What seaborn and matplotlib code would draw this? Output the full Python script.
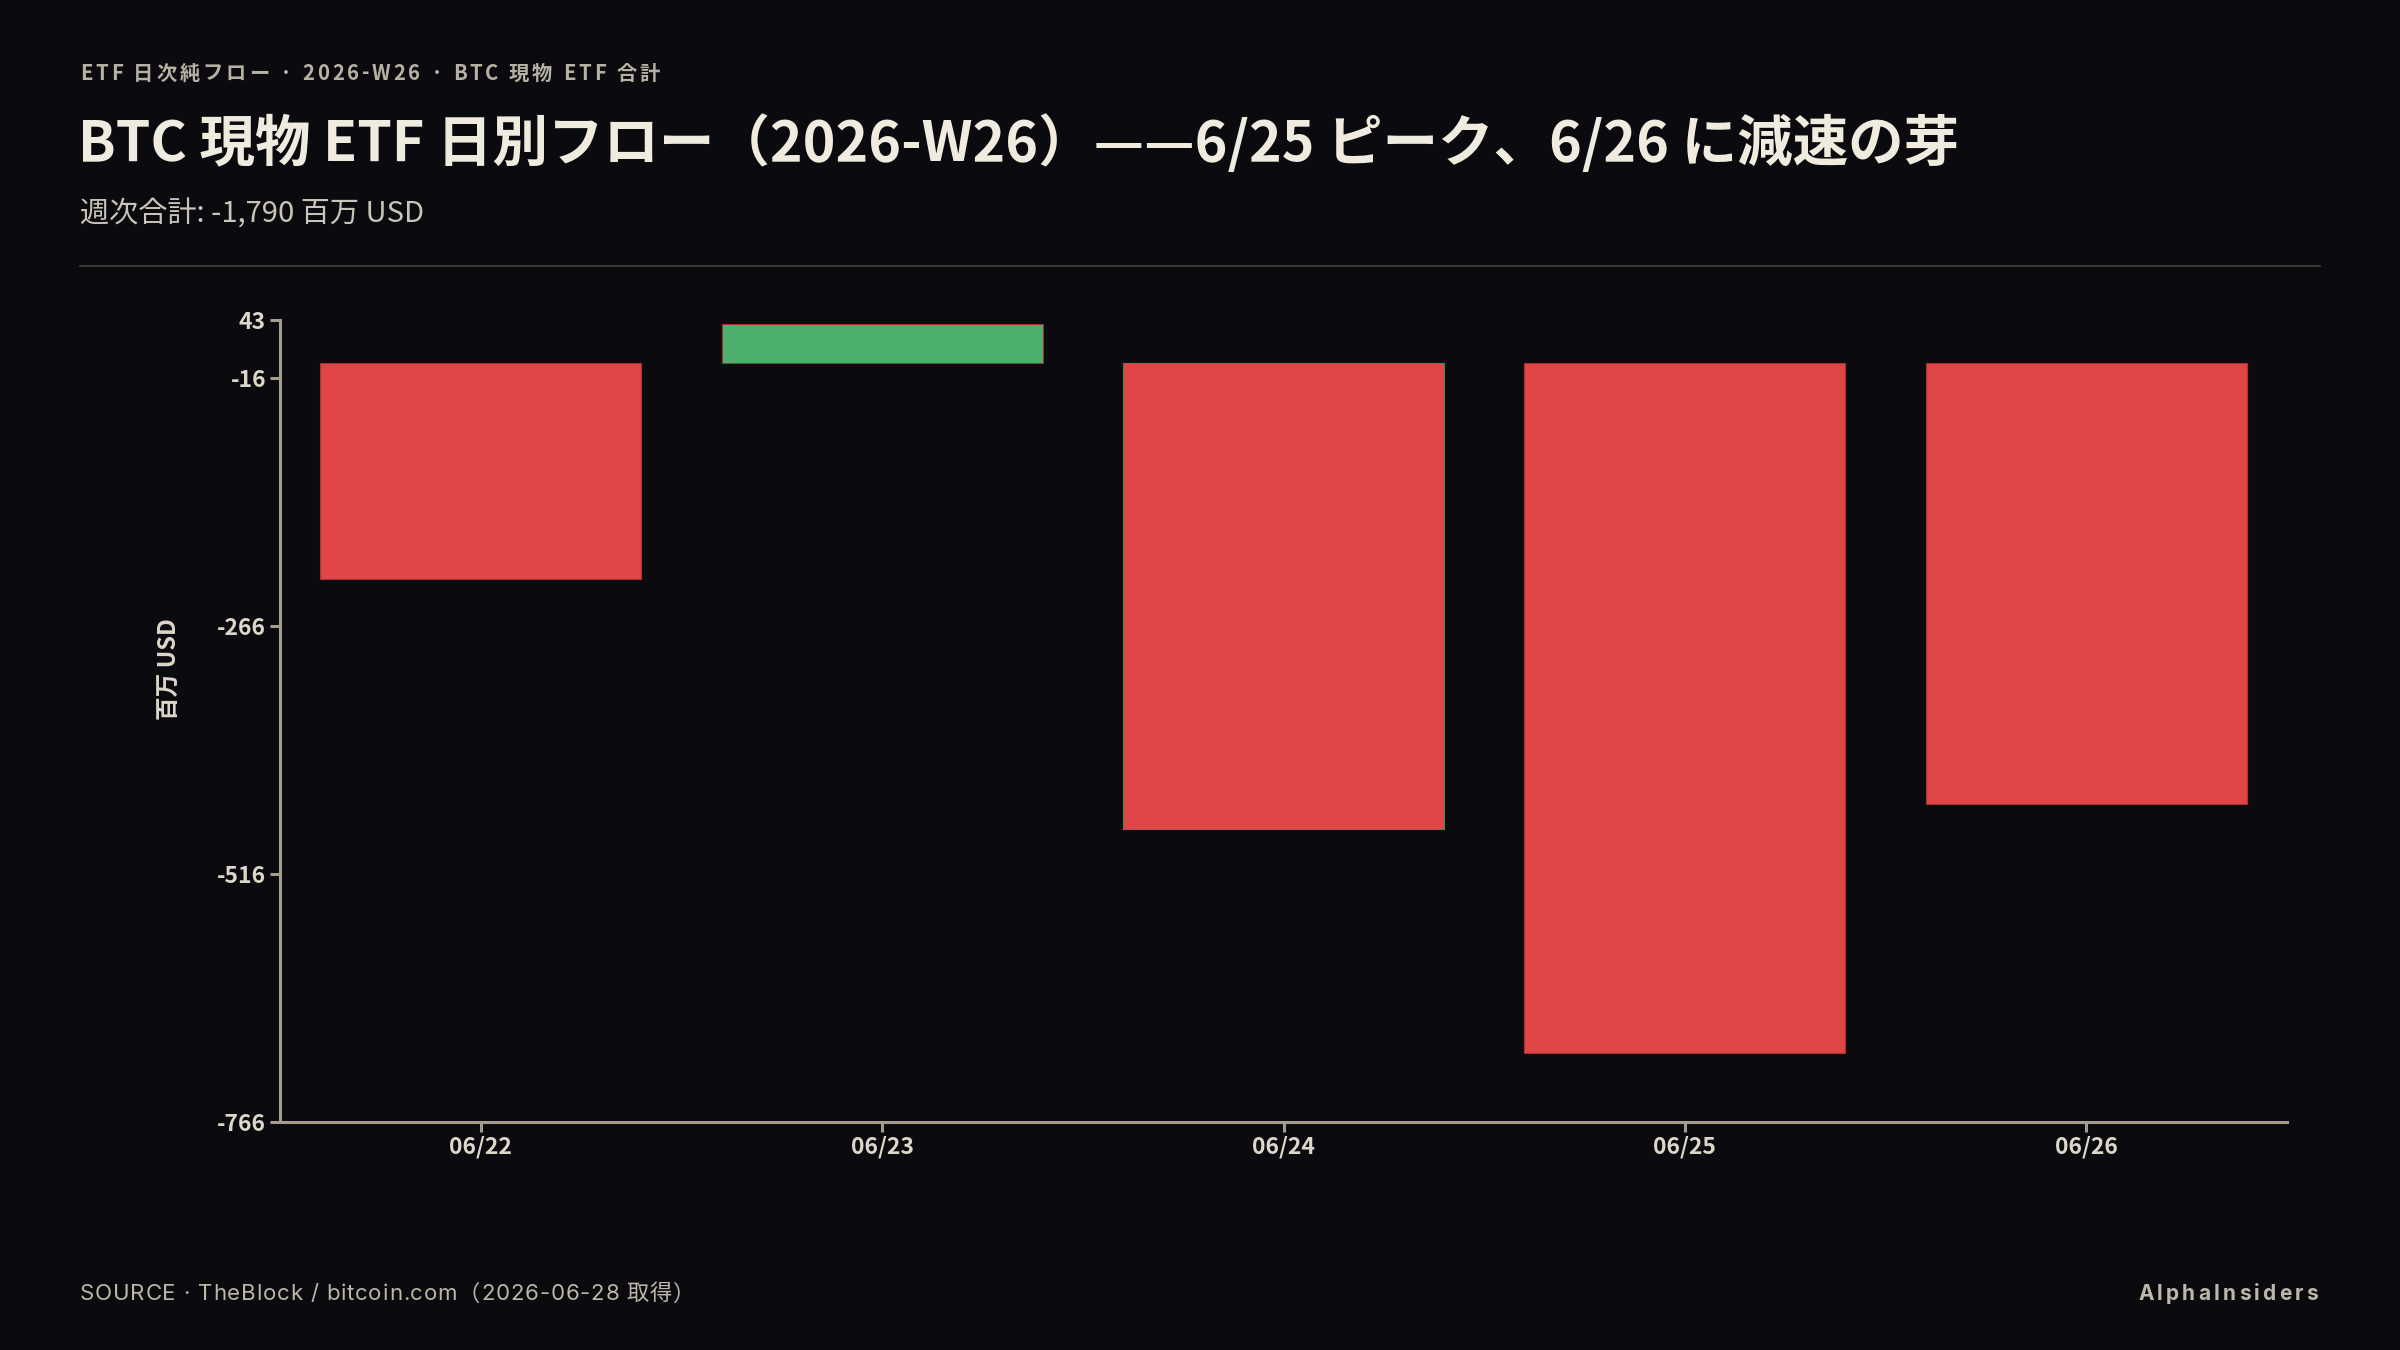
import matplotlib
matplotlib.use("Agg")
import matplotlib.pyplot as plt
import seaborn as sns
import pandas as pd

# ====================== Data ======================
dates = ["06/22", "06/23", "06/24", "06/25", "06/26"]
flows = [-218, 39, -470, -696, -445]  # 百万 USD
y_ticks = [43, -16, -266, -516, -766]
y_limits = (-766, 43)

# ====================== Style ======================
sns.set_theme(style="dark")
plt.rcParams["font.family"] = ["Noto Sans CJK JP", "DejaVu Sans"]

bg = "#0a0a0f"
pos_color = "#4caf6e"
neg_color = "#e04646"
axis_color = "#a39d90"
tick_text = "#ddd7c9"

df = pd.DataFrame({"date": dates, "flow": flows})
df["sign"] = ["up" if v >= 0 else "down" for v in df["flow"]]

W, H = 2400, 1350
fig = plt.figure(figsize=(24, 13.5), dpi=100, facecolor=bg)
ax = fig.add_axes([280 / W, 1 - 1122 / H, (2287 - 280) / W, (1122 - 320) / H])
ax.set_facecolor(bg)

sns.barplot(data=df, x="date", y="flow", hue="sign",
            palette={"up": pos_color, "down": neg_color},
            width=0.8, legend=False, ax=ax, saturation=1)
for bar, s in zip(ax.patches, df["sign"]):
    bar.set_edgecolor("#a83232" if s == "down" else "#3d8f58")
    bar.set_linewidth(0.8)

ax.set_ylim(*y_limits)
ax.set_yticks(y_ticks)
ax.set_yticklabels([str(t) for t in y_ticks])
ax.set_xlabel("")
ax.set_ylabel("百万 USD", fontsize=17, fontweight="bold", color=tick_text)
ax.yaxis.set_label_coords(-0.049, 0.565)
ax.grid(False)

for side in ["top", "right"]:
    ax.spines[side].set_visible(False)
for side in ["left", "bottom"]:
    ax.spines[side].set_color(axis_color)
    ax.spines[side].set_linewidth(2.2)

ax.tick_params(axis="both", colors=axis_color, length=7, width=2.2,
               labelcolor=tick_text, labelsize=16.5, bottom=True, left=True)
ax.tick_params(axis="x", pad=3)
ax.tick_params(axis="y", pad=3)
for lab in ax.get_xticklabels() + ax.get_yticklabels():
    lab.set_fontweight("bold")

# ====================== Header / footer ======================
renderer = fig.canvas.get_renderer()


def px_to_fig(x, y):
    return x / W, 1 - y / H


def tracked_text(x, y, s, spacing, ha="left", **kw):
    # draw text one char at a time to imitate letter-spacing (pixel coords)
    def width(t):
        if not t:
            return 0.0
        tmp = fig.text(0, 0, t, **kw)
        w = tmp.get_window_extent(renderer).width
        tmp.remove()
        return w
    total = width(s) + spacing * (len(s) - 1)
    x0 = x - total if ha == "right" else x
    for i, ch in enumerate(s):
        cx = x0 + width(s[:i]) + spacing * i
        fx, fy = px_to_fig(cx, y)
        fig.text(fx, fy, ch, ha="left", va="center", **kw)


tracked_text(80, 73, "ETF 日次純フロー · 2026-W26 · BTC 現物 ETF 合計", 2.9,
             fontsize=14.6, fontweight="bold", color="#b7b1a4")

fx, fy = px_to_fig(78, 144)
fig.text(fx, fy, "BTC 現物 ETF 日別フロー（2026-W26）——6/25 ピーク、6/26 に減速の芽",
         fontsize=40, fontweight="bold", color="#efebdf", va="center", ha="left")
fx, fy = px_to_fig(80, 215)
fig.text(fx, fy, "週次合計: -1,790 百万 USD",
         fontsize=21, color="#c9c4b8", va="center", ha="left")
fig.add_artist(plt.Line2D([80 / W, 2320 / W], [1 - 266 / H, 1 - 266 / H],
                          color="#3b3935", linewidth=1.5))

tracked_text(80, 1294, "SOURCE · TheBlock / bitcoin.com（2026-06-28 取得）", 0.8,
             fontsize=16, color="#bdb7aa", family=["Inter", "Noto Sans CJK JP"])
tracked_text(2318, 1294, "AlphaInsiders", 3.2, ha="right",
             fontsize=15, fontweight="bold", color="#bdb7aa", family=["Inter", "DejaVu Sans"])

fig.savefig("out.png", dpi=100, facecolor=bg)
